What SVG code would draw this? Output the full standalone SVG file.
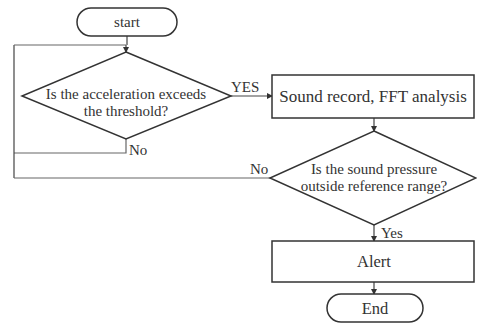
<svg xmlns="http://www.w3.org/2000/svg" width="477" height="324" viewBox="0 0 477 324">
<style>
.shape{fill:#fff;stroke:#333;stroke-width:1.5}
.line{fill:none;stroke:#444;stroke-width:1.2}
.loop{fill:none;stroke:#666;stroke-width:1.2}
text{font-family:'Liberation Serif','DejaVu Serif','Times New Roman',serif;font-size:15px;fill:#333;text-anchor:middle}
.l{text-anchor:start}
.b{font-size:16.5px}
</style>
<defs>
<marker id="arr" markerWidth="6" markerHeight="6" refX="5" refY="3" orient="auto" markerUnits="userSpaceOnUse">
<path d="M0,0 L6,3 L0,6 z" fill="#333"/>
</marker>
</defs>
<rect width="477" height="324" fill="#fff"/>
<g id="connectors">
<path class="loop" d="M126,139 V153 H14"/>
<path class="line" d="M14,178 V45"/>
<path class="loop" d="M14,45 H126"/>
<path class="line" d="M126,45 V52" marker-end="url(#arr)"/>
<path class="loop" d="M270,178 H14"/>
<path class="line" d="M127,36 V45"/>
<path class="line" d="M231,96 H272" marker-end="url(#arr)"/>
<path class="line" d="M374,118 V131" marker-end="url(#arr)"/>
<path class="line" d="M374,225 V241" marker-end="url(#arr)"/>
<path class="line" d="M374,282 V294" marker-end="url(#arr)"/>
<text class="l" x="231" y="92">YES</text>
<text class="l" x="129" y="155">No</text>
<text class="l" x="250" y="174">No</text>
<text class="l" x="381" y="238">Yes</text>
</g>
<g id="start">
<rect class="shape" x="77" y="8" width="100" height="28" rx="14"/>
<text x="127" y="27">start</text>
</g>
<g id="decision1">
<polygon class="shape" points="126,52 231,96 126,139 22,96"/>
<text x="126" y="99">Is the acceleration exceeds</text>
<text x="126" y="116">the threshold?</text>
</g>
<g id="record">
<rect class="shape" x="272" y="75" width="202" height="43"/>
<text class="b" x="373" y="102" style="font-size:17px">Sound record, FFT analysis</text>
</g>
<g id="decision2">
<polygon class="shape" points="374,131 476,178 374,225 270,178"/>
<text x="374" y="174">Is the sound pressure</text>
<text x="374" y="191">outside reference range?</text>
</g>
<g id="alert">
<rect class="shape" x="272" y="241" width="202" height="41"/>
<text class="b" x="374" y="267">Alert</text>
</g>
<g id="end">
<rect class="shape" x="327" y="294" width="96" height="28" rx="14"/>
<text class="b" x="375" y="314">End</text>
</g>
</svg>
